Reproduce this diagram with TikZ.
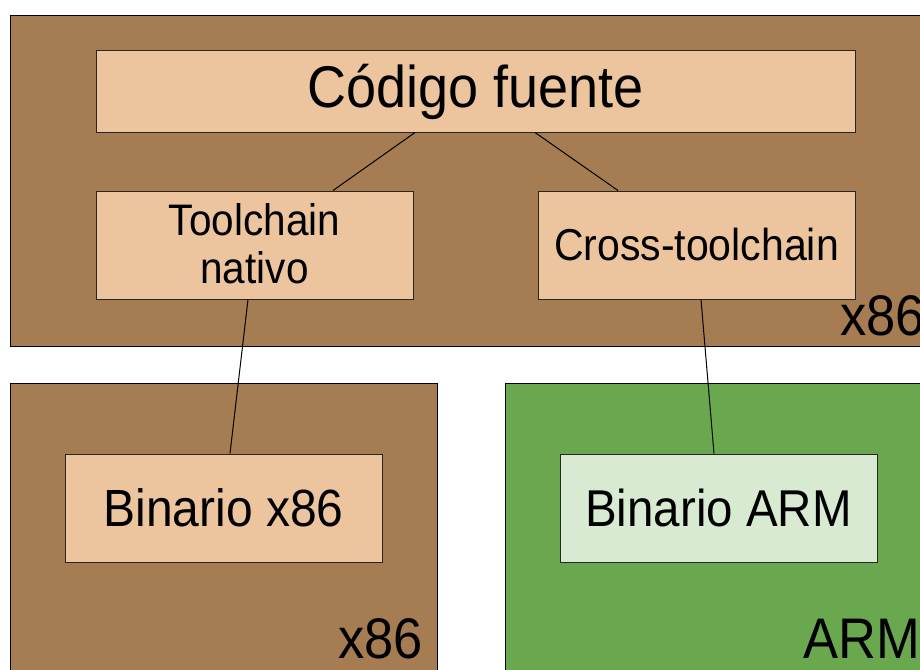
\documentclass[tikz,border=0pt]{standalone}
\usepackage{graphicx}
\usepackage{fontspec}
\setmainfont{Liberation Sans}
\definecolor{brownbg}{HTML}{A67C52}
\definecolor{peach}{HTML}{ECC59E}
\definecolor{greenbg}{HTML}{6AA84F}
\definecolor{lightgreen}{HTML}{D9EAD3}
\newcommand{\stretchtxt}[1]{\scalebox{1}[1.09]{#1}}
\begin{document}
\begin{tikzpicture}[x=1pt,y=-1pt,
  region/.style={draw=black,line width=1pt},
  box/.style={draw=black!85,line width=1pt,fill=peach,inner sep=0pt,align=center},
  conn/.style={draw=black,line width=1pt},
  tag/.style={anchor=base west,inner sep=0pt,font=\fontsize{52.5}{60}\selectfont}]
\useasboundingbox (0,0) rectangle (920,669);
\clip (0,0) rectangle (920,669);
\fill[brownbg,region] (10.5,15.5) rectangle (930,346.5);
\fill[brownbg,region] (10.5,383.5) rectangle (437,680);
\fill[greenbg,region] (505,383.5) rectangle (930,680);
\node[box,minimum width=759pt,minimum height=81pt,font=\fontsize{54}{60}\selectfont] (src) at (475.5,91.5) {\stretchtxt{Código fuente}};
\node[box,minimum width=317pt,minimum height=108pt] (nat) at (254.5,245) {};
\node[inner sep=0pt,align=center,font=\fontsize{40.5}{44}\selectfont] (natlbl) at ([yshift=-5pt]nat.center) {\stretchtxt{\begin{tabular}{@{}c@{}}Toolchain\\nativo\end{tabular}}};
\node[box,minimum width=317pt,minimum height=108pt,font=\fontsize{41}{50}\selectfont] (cross) at (696.5,245) {\stretchtxt{Cross-toolchain}};
\node[box,minimum width=317pt,minimum height=108pt,font=\fontsize{48}{56}\selectfont] (bx86) at (223.5,508) {\stretchtxt{Binario x86}};
\node[box,fill=lightgreen,minimum width=317pt,minimum height=108pt,font=\fontsize{47.5}{56}\selectfont] (barm) at (718.5,508) {\stretchtxt{Binario ARM}};
\draw[conn] (src.south -| 415,0) -- (nat.north -| 333,0);
\draw[conn] (src.south -| 535,0) -- (cross.north -| 618,0);
\draw[conn] (nat.south -| 248,0) -- (bx86.north -| 230,0);
\draw[conn] (cross.south -| 701,0) -- (barm.north -| 714,0);
\node[tag] (t1) at (840,335) {\stretchtxt{x86}};
\node[tag] (t2) at (338,658) {\stretchtxt{x86}};
\node[tag] (t3) at (803,658) {\stretchtxt{ARM}};
\end{tikzpicture}
\end{document}
